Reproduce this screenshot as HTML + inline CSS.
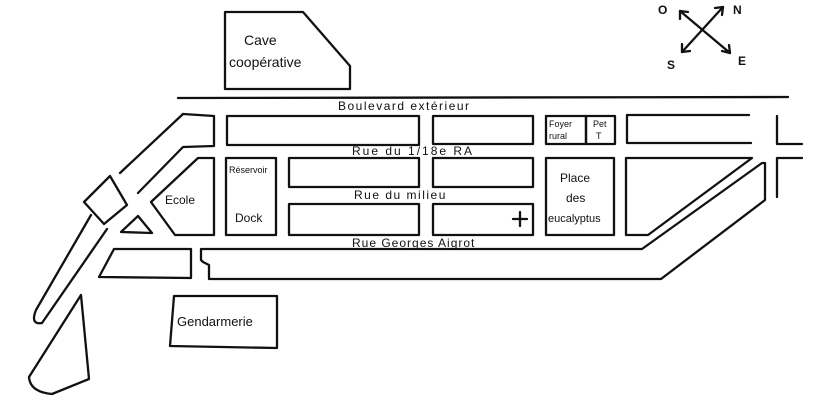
<!DOCTYPE html>
<html><head><meta charset="utf-8"><style>
html,body{margin:0;padding:0;background:#fff;width:819px;height:400px;overflow:hidden}
svg{display:block}
text{font-family:"Liberation Sans",sans-serif;fill:#111}
</style></head><body>
<svg width="819" height="400" viewBox="0 0 819 400" xmlns="http://www.w3.org/2000/svg">
<g fill="none" stroke="#111" stroke-width="2.3" stroke-linejoin="round" stroke-linecap="round">
<polygon points="225,12 303,12 350,66 350,89 225,89"/>
<line x1="178" y1="98" x2="788" y2="97"/>
<rect x="227" y="116" width="192" height="29"/>
<rect x="433" y="116" width="100" height="28"/>
<rect x="546" y="116" width="40" height="28"/>
<rect x="586" y="116" width="29" height="28"/>
<polyline points="627,115 749,115"/>
<polyline points="627,115 627,143 751,143"/>
<polyline points="777,116 777,144 802,144"/>
<polyline points="802,158 777,158 777,197"/>
<rect x="226" y="158" width="50" height="77"/>
<rect x="289" y="158" width="130" height="29"/>
<rect x="433" y="158" width="100" height="29"/>
<rect x="546" y="158" width="68" height="77"/>
<polygon points="626,158 752,158 648,235 626,235"/>
<rect x="289" y="204" width="130" height="31"/>
<rect x="433" y="204" width="100" height="31"/>
<line x1="520" y1="212" x2="520" y2="226"/><line x1="513" y1="219" x2="527" y2="219"/>
<polyline points="201,260 201,249 642,249 762,163 765,163 765,200 661,279 209,279 209,265 203,262 201,260"/>
<polygon points="114,249 191,249 191,278 99,277"/>
<polyline points="183,114 214,116 214,146 183,147 138,193"/>
<line x1="183" y1="114" x2="120" y2="173"/>
<polygon points="198,158 214,158 214,235 175,235 151,202"/>
<polygon points="121,232 138,216 152,233"/>
<polygon points="84,202 110,176 127,205 104,224"/>
<path d="M91,215 L36,310 Q30,325 42,323 L107,229"/>
<path d="M81,295 L89,379 L52,394 Q30,392 29,377 Z"/>
<polygon points="174,296 277,296 277,348 170,346"/>
<line x1="680" y1="11" x2="730" y2="53"/>
<line x1="723" y1="7" x2="682" y2="52"/>
<polyline points="680,19 680,11 688,12"/>
<polyline points="722,51 730,53 729,45"/>
<polyline points="715,8 723,7 722,15"/>
<polyline points="682,44 682,52 690,51"/>
</g>
<g font-size="12">
<text x="244" y="45" font-size="14">Cave</text>
<text x="229" y="67" font-size="14">coopérative</text>
<text x="338" y="110" letter-spacing="1.5">Boulevard  extérieur</text>
<text x="352" y="155" letter-spacing="2">Rue  du   1/18e RA</text>
<text x="354" y="199" letter-spacing="1.5">Rue  du milieu</text>
<text x="352" y="247" letter-spacing="1">Rue  Georges  Aigrot</text>
<text x="165" y="204">Ecole</text>
<text x="229" y="173" font-size="9">Réservoir</text>
<text x="235" y="222">Dock</text>
<text x="549" y="127" font-size="9">Foyer</text>
<text x="549" y="139" font-size="9">rural</text>
<text x="593" y="127" font-size="9">Pet</text>
<text x="596" y="139" font-size="9">T</text>
<text x="560" y="182">Place</text>
<text x="566" y="202">des</text>
<text x="548" y="222" font-size="11">eucalyptus</text>
<text x="177" y="326" font-size="13">Gendarmerie</text>
<text x="658" y="14" font-weight="bold">O</text>
<text x="733" y="14" font-weight="bold">N</text>
<text x="667" y="69" font-weight="bold">S</text>
<text x="738" y="65" font-weight="bold">E</text>
</g>
</svg>
</body></html>
